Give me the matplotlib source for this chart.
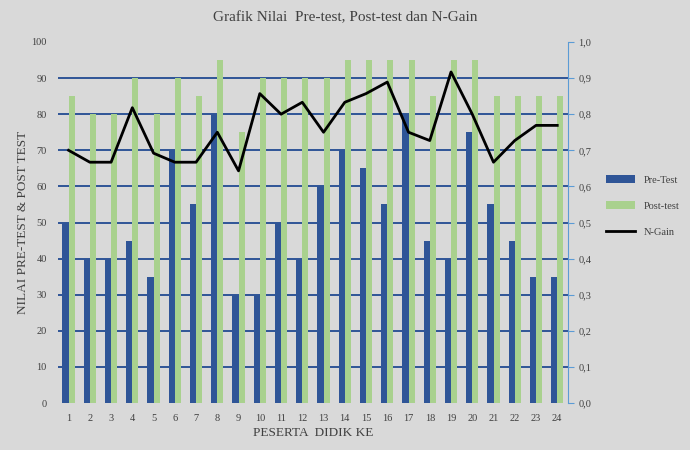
import numpy as np
import matplotlib

matplotlib.use("Agg")
import matplotlib.pyplot as plt

# data
peserta = [str(i) for i in range(1, 25)]
pre_test = [50, 40, 40, 45, 35, 70, 55, 80, 30, 30, 50, 40,
            60, 70, 65, 55, 80, 45, 40, 75, 55, 45, 35, 35]
post_test = [85, 80, 80, 90, 80, 90, 85, 95, 75, 90, 90, 90,
             90, 95, 95, 95, 95, 85, 95, 95, 85, 85, 85, 85]
n_gain = [0.70, 0.667, 0.667, 0.818, 0.692, 0.667, 0.667, 0.75, 0.643, 0.857, 0.80, 0.833,
          0.75, 0.833, 0.857, 0.889, 0.75, 0.727, 0.917, 0.80, 0.667, 0.727, 0.769, 0.769]

BG = "#d9d9d9"
BLUE = "#2f5597"
GREEN = "#a9d18e"
AXBLUE = "#5b9bd5"
INK = "#404040"

plt.rcParams.update({
    "font.family": ["Liberation Serif", "DejaVu Serif"],
    "font.size": 7.5,
    "figure.facecolor": BG,
    "axes.facecolor": BG,
    "savefig.facecolor": BG,
})

fig = plt.figure(figsize=(6.9, 4.5), dpi=100)
ax = fig.add_axes([0.084, 0.1044, 0.739, 0.8023])
x = np.arange(len(peserta))
w = 0.29
ax.bar(x - w / 2, pre_test, w, color=BLUE, label="Pre-Test", zorder=3)
ax.bar(x + w / 2, post_test, w, color=GREEN, label="Post-test", zorder=3)
ax.set_ylim(0, 100)
ax.set_xlim(-0.5, len(peserta) - 0.5)
ax.set_yticks(range(0, 101, 10))
ax.set_xticks(x, peserta)
for v in range(10, 100, 10):
    ax.axhline(v, color=BLUE, linewidth=1.4, zorder=1)
for s in ax.spines.values():
    s.set_visible(False)
ax.tick_params(length=0, colors=INK, labelsize=7.5, pad=8)
ax.set_xlabel("PESERTA  DIDIK KE", color=INK, fontsize=9.5, labelpad=3)
ax.set_ylabel("NILAI PRE-TEST & POST TEST", color=INK, fontsize=9.5, labelpad=2)

ax2 = ax.twinx()
ax2.plot(x, n_gain, color="black", linewidth=2, label="N-Gain", zorder=4)
ax2.set_ylim(0, 1.0)
ax2.set_yticks(np.arange(0, 1.01, 0.1),
               [f"{v:.1f}".replace(".", ",") for v in np.arange(0, 1.01, 0.1)])
for name, s in ax2.spines.items():
    s.set_visible(name == "right")
ax2.spines["right"].set_color(AXBLUE)
ax2.tick_params(axis="y", colors=AXBLUE, labelcolor=INK, length=4, labelsize=7.5)

handles = ax.get_legend_handles_labels()[0] + ax2.get_legend_handles_labels()[0]
labels = ["Pre-Test", "Post-test", "N-Gain"]
fig.legend(handles, labels, loc="center left", bbox_to_anchor=(0.865, 0.542),
           frameon=False, fontsize=7.5, labelcolor=INK, handlelength=2.8,
           labelspacing=1.6)

fig.suptitle("Grafik Nilai  Pre-test, Post-test dan N-Gain", y=0.975,
             fontsize=11, color=INK)

fig.savefig("out.png", dpi=100)
